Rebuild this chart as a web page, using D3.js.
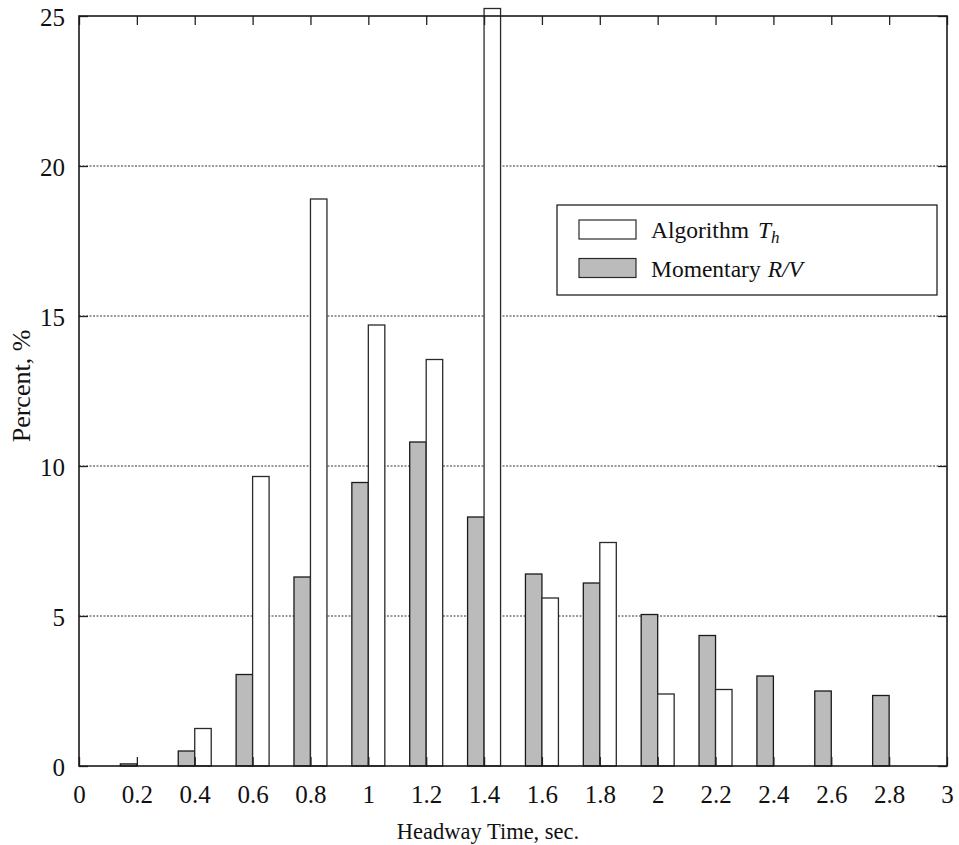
<!DOCTYPE html>
<html>
<head>
<meta charset="utf-8">
<script src="https://cdn.jsdelivr.net/npm/d3@7"></script>
<style>
  body { margin: 0; background: #fff; }
  svg text { font-family: "Liberation Serif", "DejaVu Serif", serif; fill: #111; }
</style>
</head>
<body>
<svg id="chart-svg"></svg>
<script>
const width = 959, height = 845;

// histogram bins (bin centres, sec.) and percentages
const bins = [0.2, 0.4, 0.6, 0.8, 1.0, 1.2, 1.4, 1.6, 1.8, 2.0, 2.2, 2.4, 2.6, 2.8];
const algorithmTh = [0, 1.25, 9.65, 18.9, 14.7, 13.55, 25.25, 5.6, 7.45, 2.4, 2.55, 0, 0, 0];
const momentaryRV = [0.07, 0.5, 3.05, 6.3, 9.45, 10.8, 8.3, 6.4, 6.1, 5.05, 4.35, 3.0, 2.5, 2.35];

const xTicks = [0, 0.2, 0.4, 0.6, 0.8, 1, 1.2, 1.4, 1.6, 1.8, 2, 2.2, 2.4, 2.6, 2.8, 3];
const yTicks = [0, 5, 10, 15, 20, 25];
const gridValues = [5, 10, 15, 20];
const seriesNames = ["Algorithm", "Momentary"];

const margin = {top: 16, right: 12, bottom: 79, left: 79};
const barWidth = 0.057; // in x units
const tickLen = 9;
const grayFill = "#bbbbbb";

const svg = d3.select("#chart-svg")
    .attr("width", width)
    .attr("height", height)
    .attr("viewBox", [0, 0, width, height]);

const x = d3.scaleLinear()
    .domain([0, 3])
    .range([margin.left, width - margin.right]);

const y = d3.scaleLinear()
    .domain([0, 25])
    .range([height - margin.bottom, margin.top]);

const x0 = x.range()[0], x1 = x.range()[1];
const y0 = y.range()[0], y1 = y.range()[1];

// dotted horizontal grid
svg.append("g")
    .attr("class", "grid")
    .selectAll("line")
    .data(gridValues)
    .join("line")
      .attr("x1", x0)
      .attr("x2", x1)
      .attr("y1", d => y(d))
      .attr("y2", d => y(d))
      .attr("stroke", "#333")
      .attr("stroke-width", 1)
      .attr("stroke-dasharray", "2,1.5");

// bars: momentary R/V to the left of the bin centre, algorithm to the right
const rows = bins.map((b, i) => ({bin: b, alg: algorithmTh[i], mom: momentaryRV[i]}));

const bars = svg.append("g").attr("class", "bars");

bars.selectAll("rect.mom")
    .data(rows.filter(d => d.mom > 0))
    .join("rect")
      .attr("class", "mom")
      .attr("x", d => x(d.bin - barWidth))
      .attr("width", d => x(d.bin) - x(d.bin - barWidth))
      .attr("y", d => y(d.mom))
      .attr("height", d => y(0) - y(d.mom))
      .attr("fill", grayFill)
      .attr("stroke", "#1a1a1a")
      .attr("stroke-width", 1.3);

bars.selectAll("rect.alg")
    .data(rows.filter(d => d.alg > 0))
    .join("rect")
      .attr("class", "alg")
      .attr("x", d => x(d.bin))
      .attr("width", d => x(d.bin + barWidth) - x(d.bin))
      .attr("y", d => y(d.alg))
      .attr("height", d => y(0) - y(d.alg))
      .attr("fill", "#fff")
      .attr("stroke", "#2a2a2a")
      .attr("stroke-width", 1.3);

// axes with inward ticks on all four sides
const xBottom = d3.axisBottom(x).tickValues(xTicks).tickSize(-tickLen).tickPadding(19)
    .tickFormat(d => d3.format("~g")(d));
const xTop = d3.axisTop(x).tickValues(xTicks).tickSize(-tickLen).tickFormat("");
const yLeft = d3.axisLeft(y).tickValues(yTicks).tickSize(-tickLen).tickPadding(14);
const yRight = d3.axisRight(y).tickValues(yTicks).tickSize(-tickLen).tickFormat("");

function styleAxis(g) {
    g.select(".domain").remove();
    g.selectAll(".tick line").attr("stroke", "#222").attr("stroke-width", 1.3);
    g.selectAll(".tick text")
        .attr("font-size", 25)
        .attr("fill", "#111")
        .style("font-family", "'Liberation Serif', serif");
}

svg.append("g").attr("transform", `translate(0,${y0})`).call(xBottom).call(styleAxis);
svg.append("g").attr("transform", `translate(0,${y1})`).call(xTop).call(styleAxis);
svg.append("g").attr("transform", `translate(${x0},0)`).call(yLeft).call(styleAxis)
    .selectAll(".tick text").attr("dy", "0.36em");
svg.append("g").attr("transform", `translate(${x1},0)`).call(yRight).call(styleAxis);

// frame
svg.append("rect")
    .attr("x", x0)
    .attr("y", y1)
    .attr("width", x1 - x0)
    .attr("height", y0 - y1)
    .attr("fill", "none")
    .attr("stroke", "#1a1a1a")
    .attr("stroke-width", 1.6);

// axis titles
svg.append("text")
    .attr("x", 488)
    .attr("y", 839)
    .attr("text-anchor", "middle")
    .attr("font-size", 22.5)
    .text("Headway Time, sec.");

svg.append("text")
    .attr("transform", "translate(30,386) rotate(-90)")
    .attr("text-anchor", "middle")
    .attr("font-size", 26)
    .text("Percent, %");

// legend
const legend = svg.append("g").attr("class", "legend");
legend.append("rect")
    .attr("x", 557).attr("y", 205)
    .attr("width", 380).attr("height", 90)
    .attr("fill", "#fff")
    .attr("stroke", "#222")
    .attr("stroke-width", 1.3);

const legendRows = legend.selectAll("g.item")
    .data(seriesNames)
    .join("g")
      .attr("class", "item")
      .attr("transform", (d, i) => `translate(579,${220 + i * 38.5})`);

legendRows.append("rect")
    .attr("width", 57)
    .attr("height", 19)
    .attr("fill", (d, i) => i === 0 ? "#fff" : grayFill)
    .attr("stroke", "#2a2a2a")
    .attr("stroke-width", 1.2);

const algText = legend.append("text")
    .attr("x", 651).attr("y", 238)
    .attr("font-size", 23.5);
algText.append("tspan").text("Algorithm");
algText.append("tspan").attr("font-style", "italic").attr("dx", 9).text("T");
algText.append("tspan").attr("font-style", "italic").attr("font-size", 17).attr("dy", 5).text("h");

const momText = legend.append("text")
    .attr("x", 651).attr("y", 277)
    .attr("font-size", 23.5);
momText.append("tspan").text("Momentary");
momText.append("tspan").attr("font-style", "italic").attr("dx", 7).text("R/V");
</script>
</body>
</html>
